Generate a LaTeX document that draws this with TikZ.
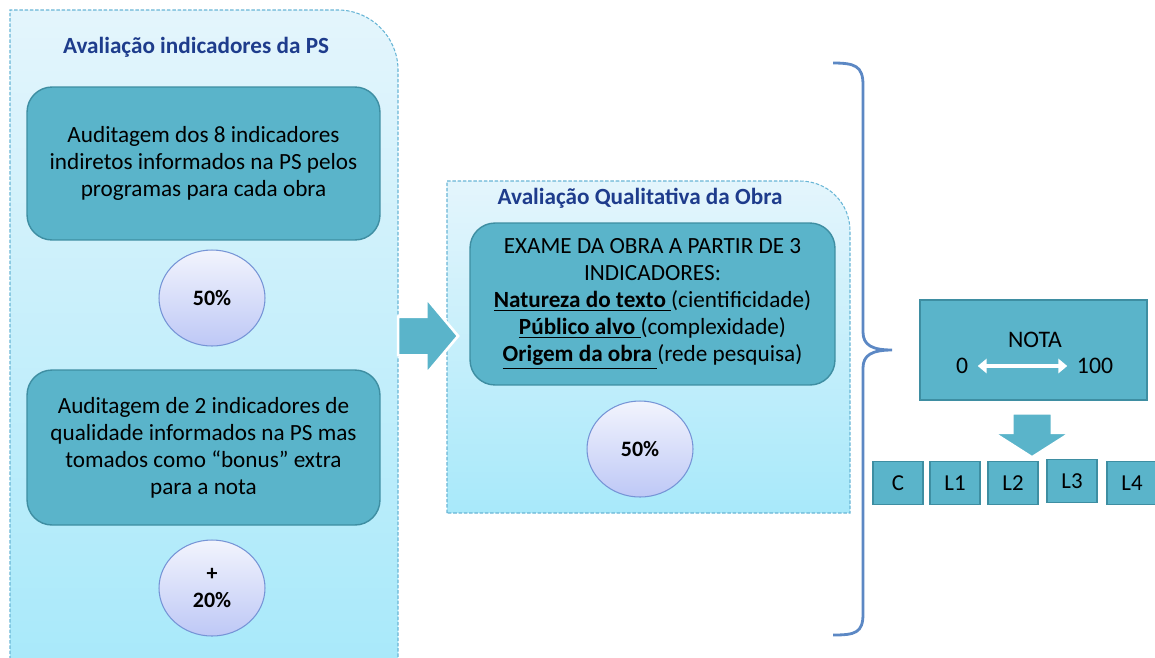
\documentclass[tikz,border=0pt]{standalone}
\usepackage{fontspec}
\setmainfont{Carlito}
\usepackage{tikz}
\usetikzlibrary{shapes.geometric, shapes.arrows, arrows.meta}

\definecolor{boxfill}{RGB}{90,180,202}
\definecolor{boxline}{RGB}{62,142,162}
\definecolor{paneltop}{RGB}{228,245,252}
\definecolor{panelbot}{RGB}{168,233,250}
\definecolor{panelline}{RGB}{105,182,214}
\definecolor{titleblue}{RGB}{30,60,140}
\definecolor{circtop}{RGB}{242,244,253}
\definecolor{circbot}{RGB}{190,200,246}
\definecolor{circline}{RGB}{118,148,214}
\definecolor{braceblue}{RGB}{92,136,196}

\begin{document}
\begin{tikzpicture}[x=0.02cm, y=-0.02cm]
  \tikzstyle{panel} = [draw=panelline, line width=0.6pt, dash pattern=on 2pt off 1pt, top color=paneltop, bottom color=panelbot]
  \tikzstyle{paneltitle} = [text=titleblue, font=\fontsize{13.2}{15}\selectfont\bfseries]
  \tikzstyle{process} = [rectangle, rounded corners=0.5cm, draw=boxline, line width=0.8pt, fill=boxfill, align=center, font=\fontsize{13.2}{15.4}\selectfont]
  \tikzstyle{weight} = [ellipse, minimum width=2.12cm, minimum height=1.92cm, draw=circline, line width=0.6pt, top color=circtop, bottom color=circbot, align=center, font=\fontsize{12.5}{15.4}\selectfont\bfseries]
  \tikzstyle{grade} = [rectangle, draw=boxline, line width=0.8pt, fill=boxfill, font=\fontsize{13}{15.4}\selectfont]
  \tikzstyle{label} = [font=\fontsize{13.5}{15.4}\selectfont]
  \tikzstyle{bigarrow} = [single arrow, draw=white, line width=1.5pt, fill=boxfill, inner sep=0pt, minimum width=0pt]

  \useasboundingbox (0,0) rectangle (1155,657);

  % panels
  \draw[panel] (10,670) -- (10,10) -- (338,10) .. controls (371,10) and (398,37) .. (398,70) -- (398,670);
  \draw[panel] (447,513) -- (447,181) -- (800,181) .. controls (828,181) and (850,203) .. (850,231) -- (850,513) -- cycle;
  \node (titleps) [paneltitle] at (196,47) {Avaliação indicadores da PS};
  \node (titleobra) [paneltitle] at (640,198) {Avaliação Qualitativa da Obra};

  % left column
  \node (indiretos) [process, minimum width=7.06cm, minimum height=3.06cm] at (203.5,163.5) {Auditagem dos 8 indicadores\\indiretos informados na PS pelos\\programas para cada obra};
  \node (w1) [weight] at (212,298) {50\%};
  \node (bonus) [process, minimum width=7.06cm, minimum height=3.1cm] at (203.5,447.5) {Auditagem de 2 indicadores de\\qualidade informados na PS mas\\tomados como “bonus” extra\\para a nota};
  \node (w2) [weight] at (212,588) {+\\20\%};

  % middle column
  \node (exame) [process, minimum width=7.3cm, minimum height=3.24cm] at (652.5,304) {EXAME DA OBRA A PARTIR DE 3\\INDICADORES:\\\underline{\textbf{Natureza do texto}\ }(cientificidade)\\\underline{\textbf{Público alvo}\ }(complexidade)\\\underline{\textbf{Origem da obra}\ }(rede pesquisa)};
  \node (w3) [weight] at (640,449) {50\%};

  \node (arrowR) [bigarrow, minimum height=1.2cm, inner ysep=0.36cm, single arrow head extend=0.37cm, single arrow tip angle=100] at (420,336) {};

  % brace
  \draw[braceblue, line width=1.6pt] (833,63) .. controls (855,63) and (863,66) .. (863,85) -- (863,332) .. controls (863,345) and (872,350) .. (892,350) .. controls (872,350) and (863,355) .. (863,368) -- (863,614) .. controls (863,633) and (855,635) .. (833,635);

  % grade
  \node (nota) [grade, minimum width=4.54cm, minimum height=2cm] at (1033.5,350) {};
  \node (notatxt) [label] at (1035,340) {NOTA};
  \node (n0) [label] at (962,366) {0};
  \node (n100) [label] at (1095,366) {100};
  \draw[white, line width=2.6pt, {Triangle[length=5pt,width=8pt]}-{Triangle[length=5pt,width=8pt]}, shorten <=2pt, shorten >=2pt] (n0) -- (n100);

  \node (arrowD) [bigarrow, rotate=-90, minimum height=0.88cm, inner ysep=0.37cm, single arrow head extend=0.37cm, single arrow tip angle=115] at (1032,429) {};

  \node (c) [grade, minimum width=1cm, minimum height=0.86cm] at (898,483) {C};
  \node (l1) [grade, minimum width=1cm, minimum height=0.86cm] at (955,483) {L1};
  \node (l2) [grade, minimum width=1cm, minimum height=0.86cm] at (1013,483) {L2};
  \node (l3) [grade, minimum width=1cm, minimum height=0.86cm] at (1072,481) {L3};
  \node (l4) [grade, minimum width=1cm, minimum height=0.86cm] at (1132,483) {L4};

\end{tikzpicture}
\end{document}
